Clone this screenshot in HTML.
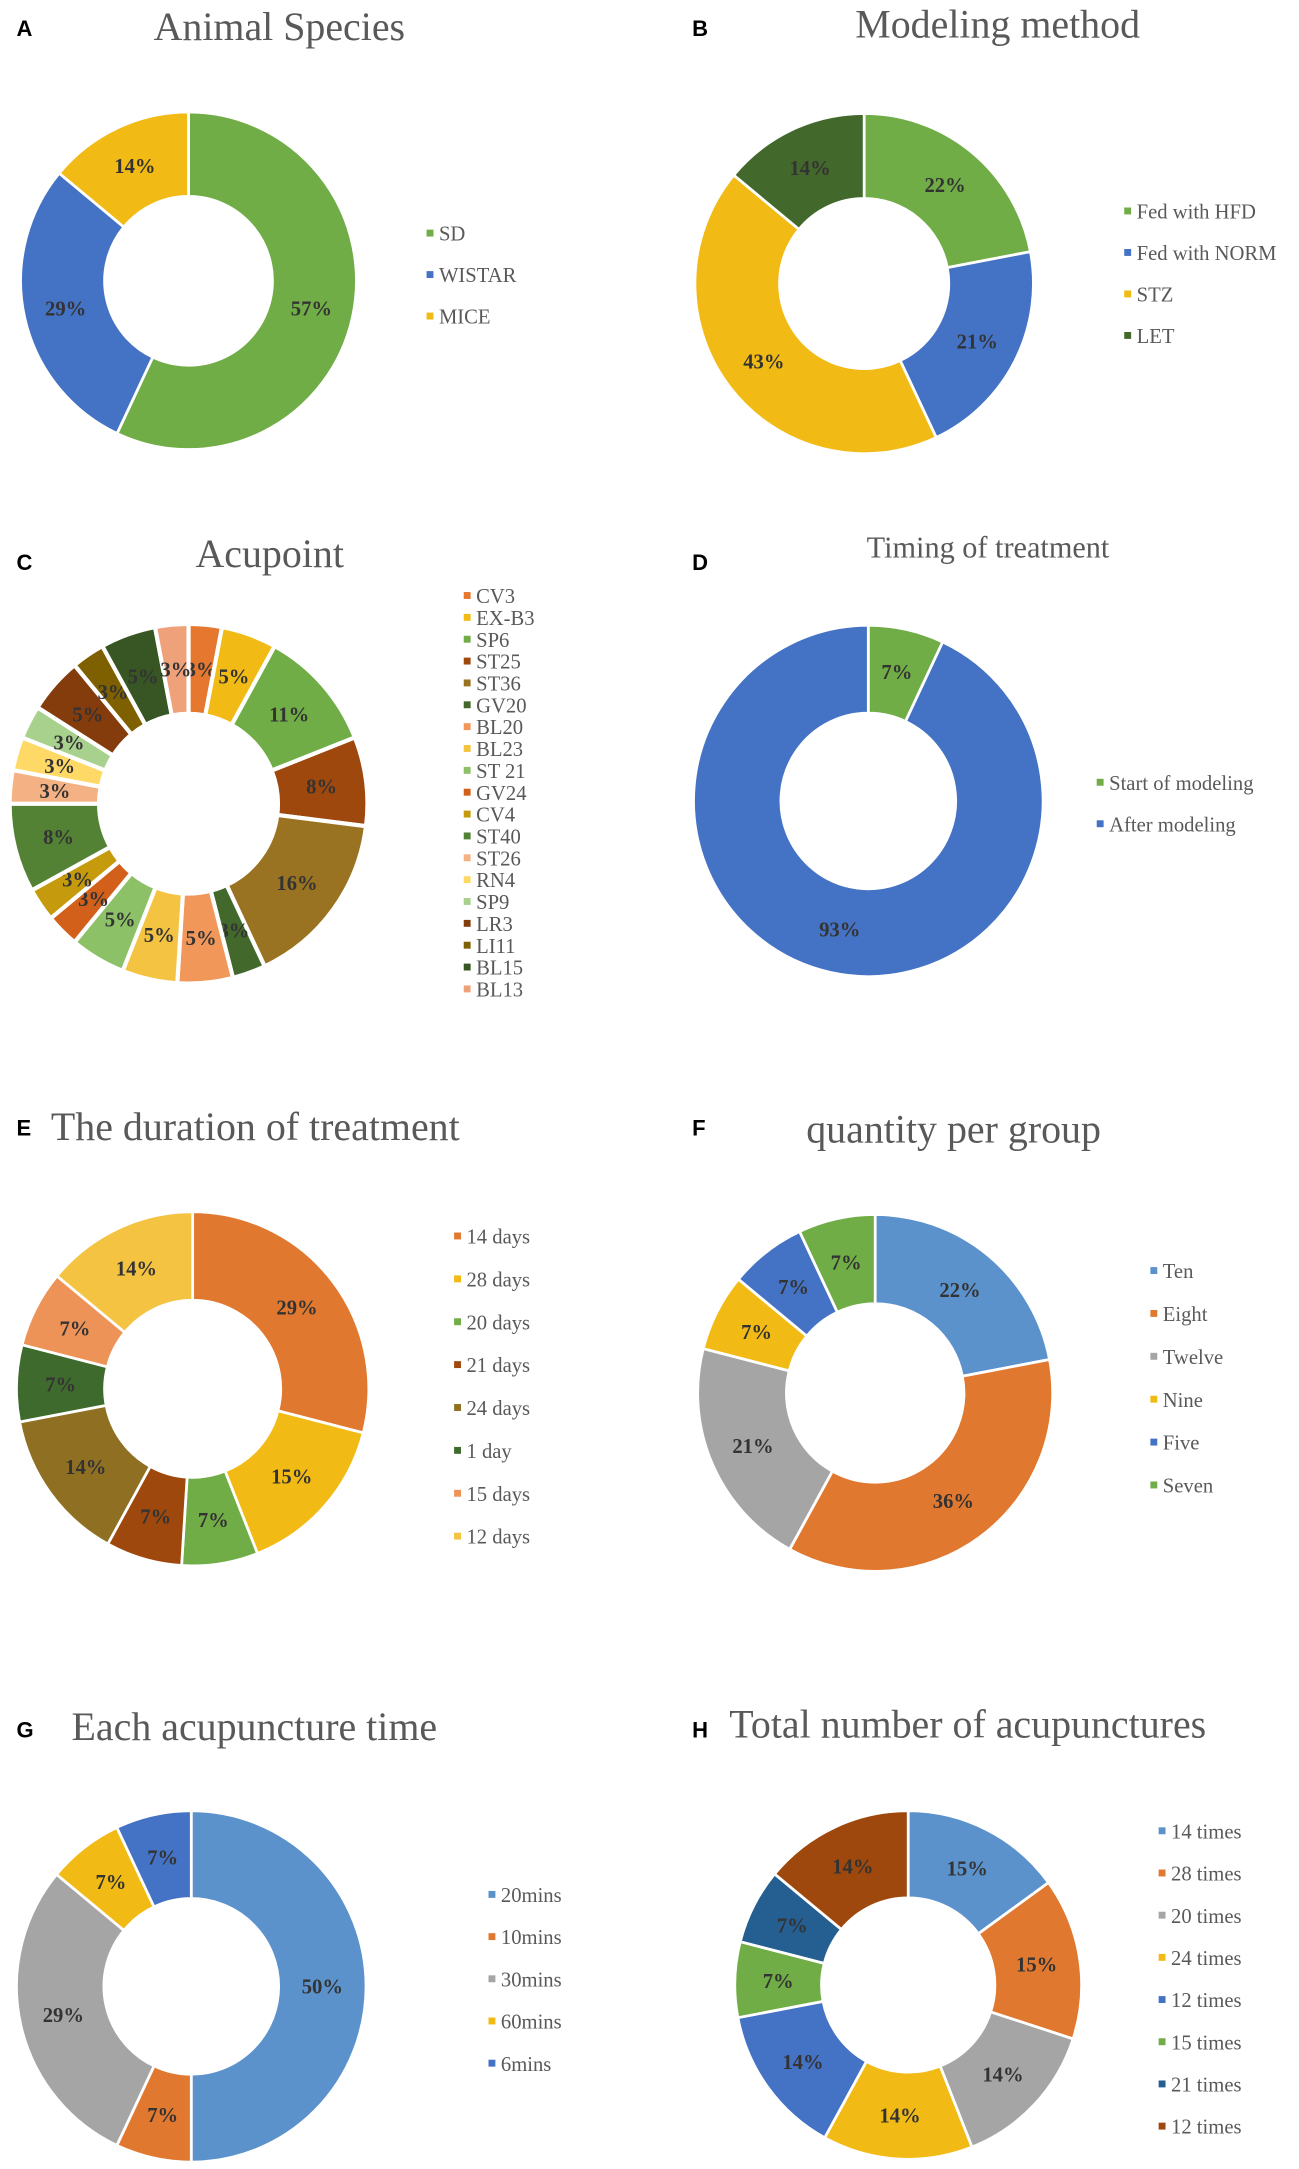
<!DOCTYPE html>
<html><head><meta charset="utf-8">
<style>
html,body{margin:0;padding:0;background:#fff;}
svg{display:block;}
.ttl{font-family:"Liberation Serif",serif;fill:#595959;}
.pl{font-family:"Liberation Sans",sans-serif;font-weight:bold;fill:#000;font-size:16px;}
.lg{font-family:"Liberation Serif",serif;fill:#595959;font-size:15px;}
.pct{font-family:"Liberation Serif",serif;font-weight:bold;fill:#333;font-size:15px;}
</style></head>
<body>
<svg id="fig" width="1299" height="2169" viewBox="0 0 944 1568" preserveAspectRatio="none" xmlns="http://www.w3.org/2000/svg">
<rect width="944" height="1568" fill="#fff"/>
<g id="content"></g>
</svg>
<script>
// Panel A
const aCats = ["SD","WISTAR","MICE"];
const aVals = [57,29,14];
const aCols = ["#70AD47","#4472C4","#F2BA14"];
// Panel B
const bCats = ["Fed with HFD","Fed with NORM","STZ","LET"];
const bVals = [22,21,43,14];
const bCols = ["#70AD47","#4472C4","#F2BA14","#43682B"];
// Panel C
const cCats = ["CV3","EX-B3","SP6","ST25","ST36","GV20","BL20","BL23","ST 21","GV24","CV4","ST40","ST26","RN4","SP9","LR3","LI11","BL15","BL13"];
const cVals = [3,5,11,8,16,3,5,5,5,3,3,8,3,3,3,5,3,5,3];
const cCols = ["#E5772F","#F2BA14","#70AD47","#9E480E","#997321","#43682B","#F1975A","#F5C342","#8CC168","#D2601A","#C59A0C","#548235","#F4B183","#FFD966","#A9D18E","#843C0C","#7F6000","#375623","#EFA27A"];
// Panel D
const dCats = ["Start of modeling","After modeling"];
const dVals = [7,93];
const dCols = ["#70AD47","#4472C4"];
// Panel E
const eCats = ["14 days","28 days","20 days","21 days","24 days","1  day","15 days","12 days"];
const eVals = [29,15,7,7,14,7,7,14];
const eCols = ["#E1782F","#F2BA14","#70AD47","#9E480E","#8F6F22","#3E6B2D","#EE9357","#F5C342"];
// Panel F
const fCats = ["Ten","Eight","Twelve","Nine","Five","Seven"];
const fVals = [22,36,21,7,7,7];
const fCols = ["#5B92CC","#E1782F","#A5A5A5","#F2BA14","#4472C4","#70AD47"];
// Panel G
const gCats = ["20mins","10mins","30mins","60mins","6mins"];
const gVals = [50,7,29,7,7];
const gCols = ["#5B92CC","#E1782F","#A5A5A5","#F2BA14","#4472C4"];
// Panel H
const hCats = ["14 times","28 times","20 times","24 times","12 times","15 times","21 times","12 times"];
const hVals = [15,15,14,14,14,7,7,14];
const hCols = ["#5B92CC","#E1782F","#A5A5A5","#F2BA14","#4472C4","#70AD47","#255E91","#9E480E"];

const NS="http://www.w3.org/2000/svg";
const root=document.getElementById('content');
function mk(tag,attrs,parent){const e=document.createElementNS(NS,tag);for(const k in attrs)e.setAttribute(k,attrs[k]);(parent||root).appendChild(e);return e;}
function txt(s,x,y,cls,parent,extra){const t=mk('text',Object.assign({x:x,y:y,class:cls},extra||{}),parent);t.textContent=s;return t;}

function donut(id,cats,vals,cols,cx,cy,R,sw,legX,legY,legStep,legFs){
  const g=mk('g',{});
  
  
  const total=vals.reduce((a,b)=>a+b,0);
  const r=R*0.5;
  let a0=-Math.PI/2;
  vals.forEach((v,i)=>{
    const a1=a0+v/total*2*Math.PI;
    const large=(a1-a0)>Math.PI?1:0;
    const p=(rr,a)=>[cx+rr*Math.cos(a),cy+rr*Math.sin(a)];
    const [x0,y0]=p(R,a0),[x1,y1]=p(R,a1),[x2,y2]=p(r,a1),[x3,y3]=p(r,a0);
    let d;
    if(v>=total){d=`M${cx-R},${cy}A${R},${R} 0 1 1 ${cx+R},${cy}A${R},${R} 0 1 1 ${cx-R},${cy}M${cx-r},${cy}A${r},${r} 0 1 0 ${cx+r},${cy}A${r},${r} 0 1 0 ${cx-r},${cy}Z`;}
    else d=`M${x0},${y0}A${R},${R} 0 ${large} 1 ${x1},${y1}L${x2},${y2}A${r},${r} 0 ${large} 0 ${x3},${y3}Z`;
    const s=mk('path',{d:d,fill:cols[i],stroke:'#fff','stroke-width':sw},g);
    
    
    const am=(a0+a1)/2,[lx,ly]=p((R+r)/2,am);
    const t=txt(Math.round(v/total*100)+'%',lx,ly+5,'pct',g,{'text-anchor':'middle'});
    
    
    a0=a1;
  });
  cats.forEach((c,i)=>{
    const le=mk('g',{},g);
    
    
    const y=legY+i*legStep;
    mk('rect',{x:legX,y:y-4,width:5,height:5,fill:cols[i]},le);
    txt(c,legX+9,y+4,'lg',le,{'font-size':legFs});
  });
}
function title(id,letter,lx,ly,s,tx,ty,fs,anchor){
  const l=txt(letter,lx,ly,'pl');
  
  
  const t=txt(s,tx,ty,'ttl',root,{'font-size':fs,'text-anchor':anchor||'middle'});
  
  
}

title('animal-species','A',12,26,'Animal Species',203,29,29);
donut('animal-species',aCats,aVals,aCols,137,203,122,2,310,170,30,15);
title('modeling-method','B',503,26,'Modeling method',725,27,29);
donut('modeling-method',bCats,bVals,bCols,628,205,123,2,817,154,30,15);
title('acupoint','C',12,412,'Acupoint',196,410,29);
donut('acupoint',cCats,cVals,cCols,137,581,130,3,337,432,15.8,13.5);
title('timing-of-treatment','D',503,412,'Timing of treatment',718,403,22);
donut('timing-of-treatment',dCats,dVals,dCols,631,579,127,2,797,567,30,15);
title('duration-of-treatment','E',12,821,'The duration of treatment',37,824,29,'start');
donut('duration-of-treatment',eCats,eVals,eCols,140,1004,128,2,330,895,31,15);
title('quantity-per-group','F',503,821,'quantity per group',693,826,29);
donut('quantity-per-group',fCats,fVals,fCols,636,1007,129,2,836,920,31,15);
title('acupuncture-time','G',12,1256,'Each acupuncture time',52,1258,29,'start');
donut('acupuncture-time',gCats,gVals,gCols,139,1436,127,2,355,1371,30.5,15);
title('total-acupunctures','H',503,1256,'Total number of acupunctures',530,1256,29,'start');
donut('total-acupunctures',hCats,hVals,hCols,660,1435,126,2,842,1325,30.5,15);
</script>
</body></html>
